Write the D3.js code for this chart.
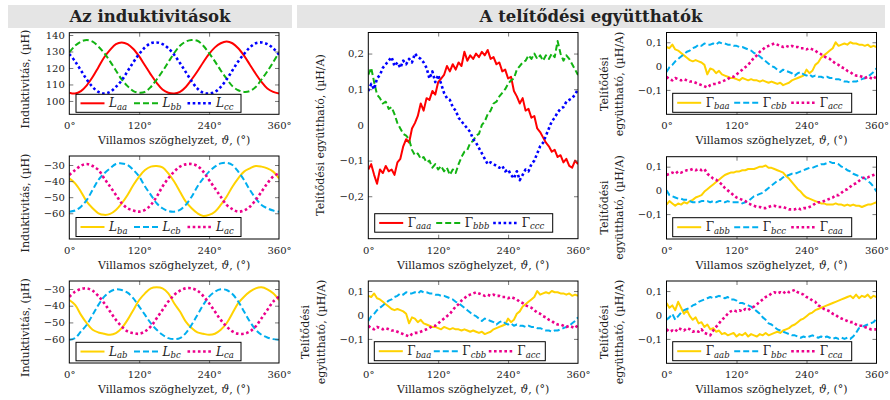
<!DOCTYPE html>
<html><head><meta charset="utf-8">
<script src="https://cdn.jsdelivr.net/npm/d3@7"></script>
<style>body{margin:0;background:#fff}svg{display:block}text{font-family:"DejaVu Serif",serif;fill:#222}</style>
</head><body><svg id="c" width="890" height="400"></svg>
<script>
// ---------- data ----------
const thetaL = d3.range(0, 361, 10);   // 10° grid for inductances
const thetaG = d3.range(0, 361, 5);    // 5° grid for saturation coefficients
const xTicks = [0, 120, 240, 360];

const Laa = [105,104.5,106,109.5,114.5,120.5,126.5,131,134.5,135.5,134.5,131.5,127,121.5,116,111,107,105,104.5,105.5,108.5,113,118,123.5,128.5,132.5,135,136,135,132,127.5,122,116.5,111.5,107.5,105.5,104.5];
const Lbb = [129.5,133.5,136,137,136,133,129,124,118.5,113,109,106,105,105.5,108.5,113,118,123.5,129,133.5,136,137,136.5,133.5,129,124,118.5,113.5,109,106.5,105.5,106,108.5,113,118,123.5,129.5];
const Lcc = [128.5,124,118.5,113,108.5,105.5,104.5,105.5,108.5,112.5,118,123.5,128.5,132.5,135,135.5,134.5,132,128,123,117.5,112,107.5,105,104.5,105.5,108.5,113,118.5,124,128.5,132.5,135,135.5,134.5,132,128];

const Lba = [-38.3,-41.4,-46.6,-52.8,-56.9,-60,-61,-60.4,-57.9,-53.8,-48.6,-42.4,-37.2,-33.1,-31,-30.6,-31.4,-35.2,-40.3,-46.6,-52.8,-56.9,-60,-61.7,-61,-59,-54.8,-49.7,-43.5,-38.3,-34.1,-32.1,-30.6,-31,-32.1,-34.1,-38.3];
const Lcb = [-59,-58.3,-55.9,-51.7,-45.5,-39.3,-35.2,-32.1,-29.4,-29,-30,-33.1,-37.2,-43.4,-48.6,-53.8,-56.9,-58.6,-59,-57.9,-54.8,-49.7,-43.4,-38.3,-34.1,-31,-29,-28.6,-30,-34.1,-39.3,-45.5,-50.7,-54.8,-56.9,-58.3,-59];
const Lac = [-36.2,-33.1,-30.4,-29.4,-30.6,-33.1,-38.3,-43.4,-48.6,-53.8,-56.9,-58.3,-59,-57.9,-54.8,-49.7,-43.4,-38.3,-34.1,-31,-29.6,-29.4,-30.6,-34.1,-39.3,-44.5,-49.7,-54.8,-57.5,-59,-58.3,-55.9,-51.7,-46.6,-41.4,-37.2,-35.2];

const Lab = [-36.6,-39.5,-45.5,-50.5,-54.4,-56,-56.8,-57.4,-56.4,-53.4,-48.5,-42.5,-36.6,-32.6,-29.6,-29,-29.6,-32.6,-38.5,-43.5,-49.5,-53.4,-56,-56.8,-57.4,-56.8,-54.4,-50.5,-44.5,-38.5,-34.6,-31.6,-29.6,-29,-30.2,-32.6,-36.6];
const Lbc = [-60.4,-59.4,-55.4,-51.4,-45.5,-39.5,-34.6,-31.6,-30.2,-30.6,-32.2,-35.6,-40.5,-45.5,-50.5,-54.4,-57.4,-59.4,-60,-59.4,-56.4,-51.4,-45.5,-39.5,-34.6,-31.6,-30.2,-30.6,-33,-37.5,-43.5,-49.5,-54.4,-57.4,-59,-60,-60.4];
const Lca = [-34.6,-31.6,-30,-29.6,-31,-34.2,-38.5,-43.5,-48.5,-52.4,-55.4,-56.4,-56.8,-55.4,-52.4,-47.5,-42.5,-37.5,-33.6,-31,-29.6,-29.6,-31,-34.2,-38.5,-43.5,-48.5,-52.4,-55.4,-56.8,-56.8,-55.4,-52.4,-47.5,-42.5,-37.5,-34.6];

const Gaaa = [-0.125,-0.11,-0.14,-0.165,-0.125,-0.135,-0.115,-0.13,-0.125,-0.14,-0.105,-0.095,-0.06,-0.04,-0.05,-0.01,0.005,0.025,0.06,0.04,0.075,0.07,0.095,0.085,0.12,0.13,0.14,0.165,0.15,0.17,0.155,0.175,0.165,0.205,0.18,0.195,0.185,0.2,0.19,0.205,0.195,0.21,0.185,0.19,0.17,0.175,0.15,0.155,0.13,0.135,0.095,0.08,0.06,0.075,0.04,0.045,0.02,0.025,-0.01,-0.02,-0.035,-0.05,-0.06,-0.075,-0.07,-0.09,-0.085,-0.105,-0.095,-0.115,-0.12,-0.1,-0.11];
const Gbbb = [0.14,0.16,0.12,0.085,0.075,0.06,0.065,0.045,0.05,0.03,0.005,-0.01,-0.025,-0.03,-0.04,-0.07,-0.085,-0.08,-0.095,-0.09,-0.105,-0.1,-0.12,-0.11,-0.125,-0.115,-0.13,-0.12,-0.14,-0.125,-0.135,-0.11,-0.09,-0.075,-0.07,-0.05,-0.045,-0.03,-0.025,0.0,0.01,0.03,0.04,0.06,0.065,0.08,0.09,0.1,0.115,0.125,0.13,0.155,0.165,0.175,0.18,0.195,0.185,0.2,0.185,0.195,0.18,0.195,0.185,0.2,0.19,0.235,0.2,0.18,0.195,0.185,0.17,0.155,0.14];
const Gccc = [0.095,0.115,0.1,0.13,0.14,0.16,0.17,0.18,0.19,0.165,0.175,0.16,0.18,0.17,0.185,0.175,0.2,0.19,0.185,0.175,0.16,0.13,0.15,0.12,0.14,0.115,0.09,0.075,0.07,0.05,0.04,0.02,0.01,0.0,-0.01,-0.02,-0.04,-0.05,-0.065,-0.08,-0.095,-0.11,-0.105,-0.11,-0.115,-0.12,-0.115,-0.13,-0.125,-0.14,-0.15,-0.13,-0.155,-0.14,-0.125,-0.13,-0.11,-0.1,-0.08,-0.06,-0.05,-0.03,-0.01,0.01,0.02,0.035,0.045,0.05,0.065,0.07,0.075,0.085,0.1];

const Gbaa = [0.08,0.075,0.09,0.07,0.065,0.055,0.045,0.035,0.025,0.02,0.025,0.02,0.015,0.005,-0.035,-0.01,-0.015,-0.03,-0.02,-0.035,-0.04,-0.045,-0.05,-0.05,-0.055,-0.06,-0.05,-0.055,-0.06,-0.055,-0.06,-0.06,-0.065,-0.06,-0.065,-0.07,-0.065,-0.07,-0.075,-0.07,-0.08,-0.075,-0.07,-0.06,-0.055,-0.05,-0.045,-0.04,-0.015,-0.03,-0.02,0.005,0.015,0.035,0.045,0.055,0.065,0.075,0.1,0.085,0.09,0.095,0.09,0.1,0.095,0.095,0.09,0.09,0.085,0.09,0.08,0.085,0.08];
const Gcbb = [-0.025,-0.005,0.005,0.02,0.03,0.04,0.05,0.06,0.065,0.075,0.08,0.09,0.085,0.095,0.09,0.09,0.095,0.09,0.1,0.095,0.095,0.09,0.09,0.085,0.085,0.08,0.08,0.075,0.07,0.065,0.055,0.05,0.04,0.03,0.02,0.01,0.0,-0.005,-0.015,-0.025,-0.015,-0.02,-0.025,-0.03,-0.04,-0.03,-0.025,-0.035,-0.04,-0.035,-0.045,-0.04,-0.045,-0.045,-0.05,-0.045,-0.05,-0.05,-0.055,-0.055,-0.06,-0.065,-0.065,-0.07,-0.065,-0.065,-0.06,-0.055,-0.05,-0.045,-0.035,-0.025,-0.01];
const Gacc = [-0.045,-0.055,-0.06,-0.05,-0.055,-0.06,-0.055,-0.06,-0.065,-0.065,-0.07,-0.075,-0.08,-0.085,-0.09,-0.08,-0.075,-0.075,-0.07,-0.065,-0.06,-0.055,-0.045,-0.045,-0.035,-0.025,-0.015,-0.005,0.005,0.02,0.035,0.045,0.06,0.07,0.08,0.085,0.09,0.095,0.09,0.085,0.08,0.085,0.08,0.085,0.08,0.08,0.075,0.075,0.07,0.075,0.07,0.065,0.055,0.05,0.04,0.035,0.03,0.02,0.01,0.005,-0.005,-0.01,-0.02,-0.025,-0.035,-0.04,-0.04,-0.045,-0.05,-0.045,-0.05,-0.055,-0.04];

const Gabb = [-0.06,-0.045,-0.055,-0.065,-0.055,-0.06,-0.05,-0.055,-0.045,-0.04,-0.03,-0.025,-0.02,-0.005,0.005,0.015,0.025,0.035,0.045,0.055,0.065,0.07,0.075,0.075,0.08,0.08,0.085,0.085,0.09,0.09,0.09,0.095,0.1,0.1,0.105,0.095,0.095,0.09,0.085,0.08,0.075,0.06,0.05,0.035,0.02,0.005,-0.005,-0.02,-0.03,-0.035,-0.04,-0.045,-0.05,-0.055,-0.055,-0.06,-0.06,-0.06,-0.055,-0.06,-0.06,-0.065,-0.06,-0.065,-0.06,-0.065,-0.065,-0.07,-0.065,-0.06,-0.06,-0.055,-0.05];
const Gbcc = [0.0,-0.02,-0.025,-0.03,-0.035,-0.035,-0.04,-0.04,-0.045,-0.05,-0.05,-0.05,-0.045,-0.045,-0.045,-0.05,-0.045,-0.05,-0.045,-0.045,-0.05,-0.045,-0.05,-0.05,-0.05,-0.05,-0.055,-0.05,-0.045,-0.035,-0.025,-0.02,-0.015,-0.01,0.0,0.01,0.02,0.03,0.04,0.045,0.055,0.06,0.065,0.07,0.07,0.075,0.08,0.085,0.09,0.095,0.095,0.1,0.105,0.11,0.11,0.115,0.12,0.115,0.115,0.11,0.1,0.095,0.085,0.08,0.07,0.065,0.06,0.055,0.05,0.04,0.03,0.015,-0.005];
const Gcaa = [0.065,0.07,0.075,0.07,0.08,0.075,0.08,0.085,0.085,0.09,0.085,0.09,0.085,0.09,0.07,0.06,0.05,0.045,0.035,0.025,0.01,0.0,-0.01,-0.02,-0.03,-0.035,-0.04,-0.045,-0.055,-0.06,-0.065,-0.07,-0.07,-0.075,-0.075,-0.07,-0.065,-0.065,-0.07,-0.07,-0.07,-0.075,-0.08,-0.08,-0.08,-0.075,-0.08,-0.075,-0.075,-0.07,-0.065,-0.055,-0.05,-0.05,-0.045,-0.04,-0.035,-0.03,-0.02,-0.02,-0.01,0.0,0.005,0.015,0.025,0.03,0.04,0.05,0.055,0.055,0.06,0.065,0.07];

const Gaab = [0.05,0.03,0.04,0.02,0.055,0.03,0.005,0.02,-0.005,-0.02,-0.01,-0.035,-0.03,-0.05,-0.04,-0.06,-0.055,-0.07,-0.065,-0.08,-0.075,-0.085,-0.08,-0.075,-0.09,-0.08,-0.085,-0.075,-0.09,-0.08,-0.085,-0.09,-0.08,-0.085,-0.075,-0.085,-0.08,-0.075,-0.07,-0.075,-0.065,-0.06,-0.055,-0.045,-0.04,-0.03,-0.02,-0.015,-0.005,0.005,0.01,0.02,0.025,0.03,0.035,0.04,0.045,0.05,0.055,0.06,0.065,0.07,0.075,0.08,0.07,0.085,0.07,0.08,0.075,0.085,0.07,0.08,0.075];
const Gbbc = [-0.02,-0.01,0.005,-0.02,-0.005,0.01,0.02,0.025,0.03,0.04,0.045,0.055,0.06,0.065,0.07,0.075,0.07,0.075,0.08,0.075,0.07,0.075,0.065,0.065,0.06,0.05,0.05,0.045,0.04,0.035,0.025,0.015,0.005,-0.01,-0.02,-0.035,-0.04,-0.05,-0.06,-0.065,-0.07,-0.075,-0.08,-0.085,-0.085,-0.09,-0.095,-0.09,-0.095,-0.09,-0.085,-0.09,-0.095,-0.09,-0.095,-0.09,-0.095,-0.1,-0.095,-0.1,-0.095,-0.1,-0.095,-0.1,-0.09,-0.075,-0.055,-0.05,-0.045,-0.04,-0.035,-0.03,-0.015];
const Gcca = [-0.06,-0.07,-0.065,-0.07,-0.055,-0.06,-0.065,-0.055,-0.06,-0.07,-0.065,-0.07,-0.06,-0.075,-0.08,-0.085,-0.065,-0.05,-0.035,-0.02,-0.01,0.005,0.015,0.02,0.015,0.02,0.015,0.025,0.02,0.03,0.035,0.045,0.055,0.065,0.075,0.08,0.09,0.095,0.09,0.095,0.09,0.1,0.095,0.1,0.105,0.095,0.09,0.085,0.075,0.07,0.06,0.055,0.04,0.035,0.025,0.02,0.015,0.005,0.0,-0.01,-0.015,-0.02,-0.025,-0.03,-0.03,-0.04,-0.045,-0.045,-0.05,-0.055,-0.06,-0.06,-0.06];

const ticksL1 = [100, 110, 120, 130, 140];
const ticksL2 = [-60, -50, -40, -30];
const ticksGbig = [-0.2, -0.1, 0, 0.1, 0.2];
const ticksGsmall = [-0.1, 0, 0.1];

// ---------- styling ----------
const C = {red:'#ff0000', green:'#12b312', blue:'#0000ff', yellow:'#ffd200', cyan:'#00aeef', magenta:'#ec008c'};
const STY = {
  solid:{w:2, dash:null},
  dashed:{w:2, dash:'6,3'},
  dotted:{w:2.6, dash:'2.6,2.6'}
};
const svg = d3.select('#c');
const gfmt = d => d === 0 ? '0' : (d < 0 ? '\u2212' : '') + Math.abs(d).toFixed(1).replace('.', ',');
const ifmt = d => (d < 0 ? '\u2212' : '') + Math.abs(d);

function header(x0, x1, txt){
  svg.append('rect').attr('x', x0).attr('y', 5).attr('width', x1 - x0).attr('height', 23).attr('fill', '#e5e5e5');
  svg.append('text').attr('x', (x0 + x1) / 2).attr('y', 22).attr('text-anchor', 'middle')
    .attr('font-weight', 'bold').attr('font-size', 16.5).text(txt);
}
header(8, 292, 'Az induktivitások');
header(297, 885, 'A telítődési együtthatók');

const LX = [69.3, 279], CX = [368.3, 578], RX = [666.5, 876.5];
const ylabL = 'Induktivitás, (µH)';

const panels = [
 {xr:LX, yr:[32.7,114.3], dom:[91.9,141.4], ticks:ticksL1, fmt:ifmt, th:thetaL, smooth:true,
  series:[[Laa,C.red,'solid','L','aa'],[Lbb,C.green,'dashed','L','bb'],[Lcc,C.blue,'dotted','L','cc']],
  leg:[76,94.3,165,18,53.5], ylab:[ylabL], lab:[29, 79]},
 {xr:LX, yr:[156,239], dom:[-76,-24.4], ticks:ticksL2, fmt:ifmt, th:thetaL, smooth:true,
  series:[[Lba,C.yellow,'solid','L','ba'],[Lcb,C.cyan,'dashed','L','cb'],[Lac,C.magenta,'dotted','L','ac']],
  leg:[76,217.5,165,19,53.5], ylab:[ylabL], lab:[29, 203]},
 {xr:LX, yr:[281,363], dom:[-74.3,-25.2], ticks:ticksL2, fmt:ifmt, th:thetaL, smooth:true,
  series:[[Lab,C.yellow,'solid','L','ab'],[Lbc,C.cyan,'dashed','L','bc'],[Lca,C.magenta,'dotted','L','ca']],
  leg:[76,342.3,165,18.5,53.5], ylab:[ylabL], lab:[29, 327.5]},
 {xr:CX, yr:[32.5,238.7], dom:[-0.319,0.259], ticks:ticksGbig, fmt:gfmt, th:thetaG, smooth:false,
  series:[[Gaaa,C.red,'solid','\u0393','aaa'],[Gbbb,C.green,'dashed','\u0393','bbb'],[Gccc,C.blue,'dotted','\u0393','ccc']],
  leg:[374.7,213.7,178,18.5,57], ylab:['Telítődési együttható, (µH/A)'], lab:[324, 135]},
 {xr:CX, yr:[281,363.3], dom:[-0.202,0.142], ticks:ticksGsmall, fmt:gfmt, th:thetaG, smooth:false,
  series:[[Gbaa,C.yellow,'solid','\u0393','baa'],[Gcbb,C.cyan,'dashed','\u0393','cbb'],[Gacc,C.magenta,'dotted','\u0393','acc']],
  leg:[374.3,341.7,171,19,55], ylab:['Telítődési','együttható, (µH/A)'], lab:[0, 332]},
 {xr:RX, yr:[32.5,114.3], dom:[-0.2025,0.141], ticks:ticksGsmall, fmt:gfmt, th:thetaG, smooth:false,
  series:[[Gbaa,C.yellow,'solid','\u0393','baa'],[Gcbb,C.cyan,'dashed','\u0393','cbb'],[Gacc,C.magenta,'dotted','\u0393','acc']],
  leg:[672.7,93.3,179,19,57], ylab:['Telítődési','együttható, (µH/A)'], lab:[0, 84]},
 {xr:RX, yr:[156.7,239], dom:[-0.205,0.142], ticks:ticksGsmall, fmt:gfmt, th:thetaG, smooth:false,
  series:[[Gabb,C.yellow,'solid','\u0393','abb'],[Gbcc,C.cyan,'dashed','\u0393','bcc'],[Gcaa,C.magenta,'dotted','\u0393','caa']],
  leg:[672.7,217.7,179,19,57], ylab:['Telítődési','együttható, (µH/A)'], lab:[0, 207.5]},
 {xr:RX, yr:[281,363.3], dom:[-0.202,0.142], ticks:ticksGsmall, fmt:gfmt, th:thetaG, smooth:false,
  series:[[Gaab,C.yellow,'solid','\u0393','aab'],[Gbbc,C.cyan,'dashed','\u0393','bbc'],[Gcca,C.magenta,'dotted','\u0393','cca']],
  leg:[672.7,341.7,179,19,57], ylab:['Telítődési','együttható, (µH/A)'], lab:[0, 332]}
];

panels.forEach((p, idx) => {
  const x = d3.scaleLinear().domain([0, 360]).range(p.xr);
  const y = d3.scaleLinear().domain(p.dom).range([p.yr[1], p.yr[0]]);
  const w = p.xr[1] - p.xr[0], h = p.yr[1] - p.yr[0];
  const g = svg.append('g');
  const cid = 'clip' + idx;
  svg.append('clipPath').attr('id', cid).append('rect')
    .attr('x', p.xr[0]).attr('y', p.yr[0]).attr('width', w).attr('height', h);
  const lg = g.append('g').attr('clip-path', `url(#${cid})`);
  p.series.forEach(s => {
    const line = d3.line().x((d, i) => x(p.th[i])).y(d => y(d))
      .curve(p.smooth ? d3.curveCatmullRom : d3.curveLinear);
    const st = STY[s[2]];
    lg.append('path').datum(s[0]).attr('d', line).attr('fill', 'none')
      .attr('stroke', s[1]).attr('stroke-width', st.w)
      .attr('stroke-dasharray', st.dash).attr('stroke-linejoin', 'round');
  });
  // axes (ticks inside)
  const axB = d3.axisBottom(x).tickValues(xTicks).tickFormat(d => d + '°').tickSizeInner(-4).tickSizeOuter(0).tickPadding(8);
  const axT = d3.axisTop(x).tickValues([120, 240]).tickFormat('').tickSizeInner(-4).tickSizeOuter(0);
  const axL = d3.axisLeft(y).tickValues(p.ticks).tickFormat(p.fmt).tickSizeInner(-4).tickSizeOuter(0).tickPadding(4.5);
  const axR = d3.axisRight(y).tickValues(p.ticks).tickFormat('').tickSizeInner(-4).tickSizeOuter(0);
  const style = a => {
    a.select('.domain').remove();
    a.selectAll('.tick line').attr('stroke', '#555').attr('stroke-width', 0.8);
    a.selectAll('.tick text').attr('font-family', 'DejaVu Serif').attr('font-size', 10).attr('fill', '#222');
  };
  g.append('g').attr('transform', `translate(0,${p.yr[1]})`).call(axB).call(style);
  g.append('g').attr('transform', `translate(0,${p.yr[0]})`).call(axT).call(style);
  g.append('g').attr('transform', `translate(${p.xr[0]},0)`).call(axL).call(style);
  g.append('g').attr('transform', `translate(${p.xr[1]},0)`).call(axR).call(style);
  g.selectAll('.tick').filter(d => d === 0 || d === 360).select('line').attr('stroke', 'none');
  // frame
  g.append('rect').attr('x', p.xr[0]).attr('y', p.yr[0]).attr('width', w).attr('height', h)
    .attr('fill', 'none').attr('stroke', '#000').attr('stroke-width', 1);
  // x axis title
  const xt = g.append('text').attr('x', (p.xr[0] + p.xr[1]) / 2).attr('y', p.yr[1] + 30)
    .attr('text-anchor', 'middle').attr('font-size', 11);
  xt.append('tspan').text('Villamos szöghelyzet, ');
  xt.append('tspan').attr('font-style', 'italic').text('\u03D1');
  xt.append('tspan').text(', (°)');
  // y axis title
  if (p.ylab.length === 1) {
    g.append('text').attr('transform', `translate(${p.lab[0]},${p.lab[1]}) rotate(-90)`)
      .attr('text-anchor', 'middle').attr('font-size', 11).text(p.ylab[0]);
  } else {
    g.append('text').attr('transform', `translate(${p.xr[0] - 59},${p.lab[1]}) rotate(-90)`)
      .attr('text-anchor', 'middle').attr('font-size', 11).text(p.ylab[0]);
    g.append('text').attr('transform', `translate(${p.xr[0] - 43.5},${p.lab[1]}) rotate(-90)`)
      .attr('text-anchor', 'middle').attr('font-size', 11).text(p.ylab[1]);
  }
  // legend
  const [lx, ly, lw, lh, step] = p.leg;
  const L = g.append('g');
  L.append('rect').attr('x', lx).attr('y', ly).attr('width', lw).attr('height', lh)
    .attr('fill', '#fff').attr('stroke', '#000').attr('stroke-width', 1);
  p.series.forEach((s, i) => {
    const sx = lx + 4.5 + i * step, my = ly + lh / 2;
    const st = STY[s[2]];
    L.append('line').attr('x1', sx).attr('x2', sx + 24).attr('y1', my).attr('y2', my)
      .attr('stroke', s[1]).attr('stroke-width', st.w).attr('stroke-dasharray', st.dash);
    const t = L.append('text').attr('x', sx + 28.5).attr('y', my + 4).attr('font-size', 12);
    t.append('tspan').attr('font-style', s[3] === 'L' ? 'italic' : 'normal').text(s[3]);
    t.append('tspan').attr('font-style', 'italic').attr('font-size', 8.5).attr('dy', 2.5).text(s[4]);
  });
});
</script></body></html>
